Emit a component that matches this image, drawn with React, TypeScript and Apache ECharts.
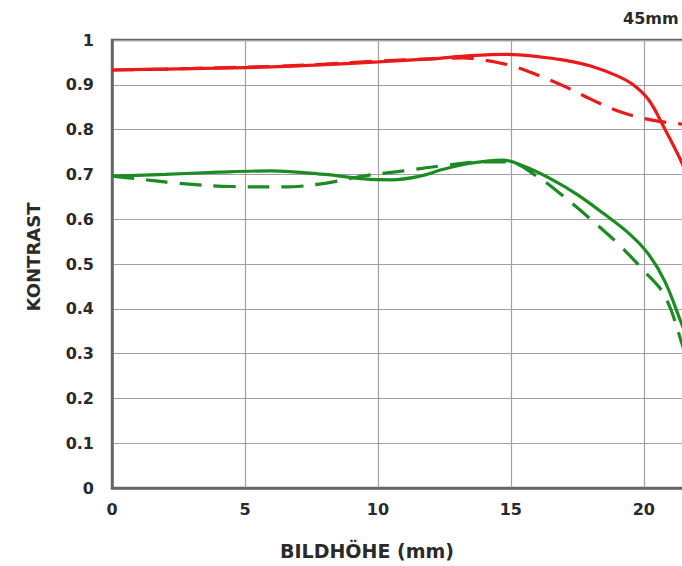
import React, { useEffect, useRef } from "react";
import * as echarts from "echarts";

const xTicks = [0, 5, 10, 15, 20];
const yTicks = [0, 0.1, 0.2, 0.3, 0.4, 0.5, 0.6, 0.7, 0.8, 0.9, 1];

const redSolidX = [0, 2, 4, 6, 8, 10, 12, 13.5, 14.8, 16, 17, 18, 19, 19.6, 20.2, 20.8, 21.4, 22];
const redSolidY = [0.933, 0.935, 0.937, 0.94, 0.945, 0.951, 0.958, 0.965, 0.968, 0.963, 0.955, 0.942, 0.92, 0.9, 0.865, 0.8, 0.73, 0.65];

const redDashX = [0, 2, 4, 6, 8, 10, 12, 13.2, 14, 15, 16, 17, 18, 19, 20, 21, 22];
const redDashY = [0.933, 0.935, 0.938, 0.941, 0.946, 0.953, 0.958, 0.96, 0.955, 0.943, 0.922, 0.897, 0.868, 0.842, 0.825, 0.815, 0.81];

const greenSolidX = [0, 2, 4, 6, 8, 9.5, 10.5, 11.5, 12.5, 13.5, 14.7, 15.5, 16.5, 17.5, 18.5, 19.5, 20.2, 20.8, 21.4, 22];
const greenSolidY = [0.696, 0.7, 0.705, 0.708, 0.7, 0.69, 0.688, 0.695, 0.712, 0.725, 0.732, 0.718, 0.69, 0.655, 0.612, 0.565, 0.52, 0.46, 0.37, 0.28];

const greenDashX = [0, 1, 2.5, 4.5, 6.5, 8, 9.5, 11, 12.5, 14, 14.9, 16, 17, 18, 19, 20, 20.8, 21.5, 22];
const greenDashY = [0.696, 0.69, 0.68, 0.673, 0.672, 0.68, 0.697, 0.708, 0.72, 0.728, 0.728, 0.695, 0.65, 0.6, 0.547, 0.485, 0.428, 0.31, 0.22];

const xName = "BILDHÖHE (mm)";
const yName = "KONTRAST";
const cornerLabel = "45mm";

const RED = "#ea1a1a";
const GREEN = "#1c8c22";
const FONT = "DejaVu Sans";

const pairs = (xs: number[], ys: number[]) => xs.map((x, i) => [x, ys[i]]);

export default function App() {
  const ref = useRef<HTMLDivElement>(null);
  useEffect(() => {
    if (!ref.current) return;
    const chart = echarts.init(ref.current, undefined, { renderer: "svg" });
    const mk = (name: string, xs: number[], ys: number[], color: string, dashed: boolean) => ({
      name,
      type: "line",
      data: pairs(xs, ys),
      showSymbol: false,
      smooth: 0.35,
      lineStyle: { color, width: 3.2, type: dashed ? [22, 12] : "solid" },
      z: dashed ? 3 : 4,
    });
    chart.setOption({
      animation: false,
      backgroundColor: "#ffffff",
      grid: {
        left: 112,
        top: 40,
        width: 585,
        height: 448,
        show: true,
        borderColor: "#666666",
        borderWidth: 2.5,
      },
      xAxis: {
        type: "value",
        min: 0,
        max: 22,
        interval: 5,
        axisLine: { show: true, lineStyle: { color: "#666666", width: 2.5 } },
        axisTick: { show: false },
        splitLine: { show: true, lineStyle: { color: "#a0a0a0", width: 1.2 } },
        axisLabel: {
          margin: 13,
          color: "#2a2a2a",
          fontFamily: FONT,
          fontWeight: "bold",
          fontSize: 16,
          showMaxLabel: false,
          formatter: (v: number) => (xTicks.includes(v) ? String(v) : ""),
        },
      },
      yAxis: {
        type: "value",
        min: 0,
        max: 1,
        interval: 0.1,
        axisLine: { show: true, lineStyle: { color: "#666666", width: 2.5 } },
        axisTick: { show: false },
        splitLine: { show: true, lineStyle: { color: "#a0a0a0", width: 1.2 } },
        axisLabel: {
          margin: 18,
          color: "#2a2a2a",
          fontFamily: FONT,
          fontWeight: "bold",
          fontSize: 16,
          formatter: (v: number) => {
            const t = yTicks.find((y) => Math.abs(y - v) < 1e-6);
            return t === undefined ? "" : String(Math.round(t * 10) / 10);
          },
        },
      },
      graphic: [
        {
          type: "text",
          left: 280,
          top: 541,
          style: { text: xName, fill: "#2a2a2a", font: `bold 19px "${FONT}"` },
        },
        {
          type: "text",
          x: 33,
          y: 257,
          rotation: Math.PI / 2,
          style: {
            text: yName,
            fill: "#2a2a2a",
            font: `bold 18px "${FONT}"`,
            align: "center",
            verticalAlign: "middle",
          },
        },
        {
          type: "text",
          left: 623,
          top: 10,
          style: { text: cornerLabel, fill: "#2a2a2a", font: `bold 16px "${FONT}"` },
        },
      ],
      series: [
        mk("red-dashed", redDashX, redDashY, RED, true),
        mk("red-solid", redSolidX, redSolidY, RED, false),
        mk("green-dashed", greenDashX, greenDashY, GREEN, true),
        mk("green-solid", greenSolidX, greenSolidY, GREEN, false),
      ],
    });
    return () => chart.dispose();
  }, []);
  return (
    <div style={{ position: "fixed", left: 0, top: 0, width: 682, height: 566, overflow: "hidden", background: "#fff" }}>
      <div ref={ref} style={{ width: 720, height: 566 }} />
    </div>
  );
}
